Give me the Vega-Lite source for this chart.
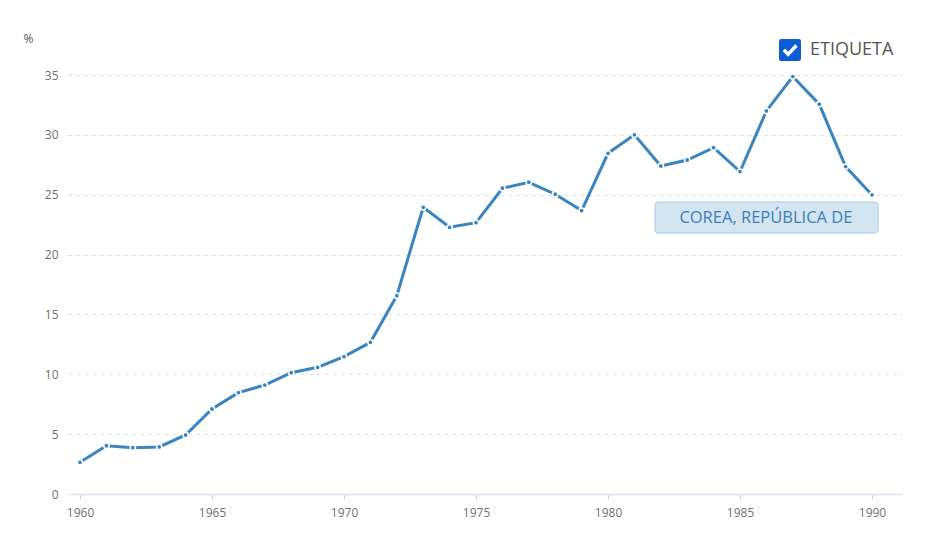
{
  "$schema": "https://vega.github.io/schema/vega-lite/v6.json",
  "width": 834,
  "height": 419,
  "autosize": "none",
  "padding": {"left": 68, "top": 75, "right": 43, "bottom": 51},
  "background": "white",
  "config": {
    "view": {"stroke": null},
    "font": "Open Sans",
    "axis": {"labelFont": "Open Sans", "labelColor": "#707070", "labelFontSize": 12}
  },
  "datasets": {
    "serie": [
      {"anio": 1960, "valor": 2.65},
      {"anio": 1961, "valor": 4.03},
      {"anio": 1962, "valor": 3.87},
      {"anio": 1963, "valor": 3.93},
      {"anio": 1964, "valor": 4.93},
      {"anio": 1965, "valor": 7.1},
      {"anio": 1966, "valor": 8.47},
      {"anio": 1967, "valor": 9.1},
      {"anio": 1968, "valor": 10.13},
      {"anio": 1969, "valor": 10.58},
      {"anio": 1970, "valor": 11.47},
      {"anio": 1971, "valor": 12.67},
      {"anio": 1972, "valor": 16.57},
      {"anio": 1973, "valor": 23.95},
      {"anio": 1974, "valor": 22.28},
      {"anio": 1975, "valor": 22.67},
      {"anio": 1976, "valor": 25.54},
      {"anio": 1977, "valor": 26.04},
      {"anio": 1978, "valor": 25.04},
      {"anio": 1979, "valor": 23.67},
      {"anio": 1980, "valor": 28.46},
      {"anio": 1981, "valor": 30.0},
      {"anio": 1982, "valor": 27.4},
      {"anio": 1983, "valor": 27.9},
      {"anio": 1984, "valor": 28.93},
      {"anio": 1985, "valor": 26.93},
      {"anio": 1986, "valor": 32.0},
      {"anio": 1987, "valor": 34.87},
      {"anio": 1988, "valor": 32.56},
      {"anio": 1989, "valor": 27.35},
      {"anio": 1990, "valor": 24.98}
    ],
    "etiqueta": [
      {"pais": "COREA, REPÚBLICA DE"}
    ]
  },
  "layer": [
    {
      "data": {"name": "serie"},
      "mark": {"type": "line", "color": "#3a85c0", "strokeWidth": 3},
      "encoding": {
        "x": {
          "field": "anio",
          "type": "quantitative",
          "scale": {"domain": [1959.545, 1991.136], "nice": false, "zero": false},
          "axis": {
            "title": null,
            "values": [1960, 1965, 1970, 1975, 1980, 1985, 1990],
            "format": "d",
            "grid": false,
            "domainColor": "#e3e9f1",
            "domainWidth": 2,
            "tickColor": "#cfcfcf",
            "tickSize": 5,
            "labelPadding": 8
          }
        },
        "y": {
          "field": "valor",
          "type": "quantitative",
          "scale": {"domain": [0, 35], "nice": false},
          "axis": {
            "title": "%",
            "titleAngle": 0,
            "titleX": -45,
            "titleY": -37,
            "titleAlign": "left",
            "titleBaseline": "middle",
            "titleFontSize": 12,
            "titleFontWeight": "normal",
            "titleColor": "#555555",
            "values": [0, 5, 10, 15, 20, 25, 30, 35],
            "domain": false,
            "ticks": false,
            "tickSize": 0,
            "labelPadding": 10,
            "gridColor": "#e2e2e2",
            "gridDash": [4, 4]
          }
        }
      }
    },
    {
      "data": {"name": "serie"},
      "mark": {"type": "point", "filled": true, "color": "#3a85c0", "size": 28, "stroke": "white", "strokeWidth": 1.5, "opacity": 1},
      "encoding": {
        "x": {"field": "anio", "type": "quantitative"},
        "y": {"field": "valor", "type": "quantitative"}
      }
    },
    {
      "data": {"name": "etiqueta"},
      "mark": {"type": "rect", "fill": "#d4e5f2", "stroke": "#a7c9e5", "strokeWidth": 1, "cornerRadius": 3},
      "encoding": {
        "x": {"datum": 1981.78, "type": "quantitative"},
        "x2": {"datum": 1990.23},
        "y": {"datum": 24.39, "type": "quantitative"},
        "y2": {"datum": 21.8}
      }
    },
    {
      "data": {"name": "etiqueta"},
      "mark": {"type": "text", "font": "Open Sans", "fontSize": 16.5, "fill": "#3b7fb9", "align": "center", "baseline": "middle"},
      "encoding": {
        "x": {"datum": 1985.98, "type": "quantitative"},
        "y": {"datum": 23.05, "type": "quantitative"},
        "text": {"field": "pais"}
      }
    },
    {
      "data": {"name": "etiqueta"},
      "mark": {"type": "text", "fontSize": 1},
      "encoding": {
        "x": {"datum": 1985.98, "type": "quantitative"},
        "y": {"datum": 23.05, "type": "quantitative"},
        "text": {"value": ""},
        "color": {
          "datum": "ETIQUETA",
          "scale": {"range": ["#0b5cd5"]},
          "legend": {
            "title": null,
            "orient": "none",
            "legendX": 711,
            "legendY": -36,
            "padding": 0,
            "labelFont": "Open Sans",
            "labelFontSize": 18,
            "labelColor": "#555555",
            "labelOffset": 9,
            "symbolSize": 484,
            "symbolStrokeWidth": 0,
            "symbolOpacity": 1,
            "symbolType": "M-0.8,-1H0.8Q1,-1 1,-0.8V0.8Q1,1 0.8,1H-0.8Q-1,1 -1,0.8V-0.8Q-1,-1 -0.8,-1Z M-0.68,0.08L-0.17,0.62L0.7,-0.3L0.46,-0.52L-0.17,0.16L-0.44,-0.14Z"
          }
        }
      }
    }
  ]
}
